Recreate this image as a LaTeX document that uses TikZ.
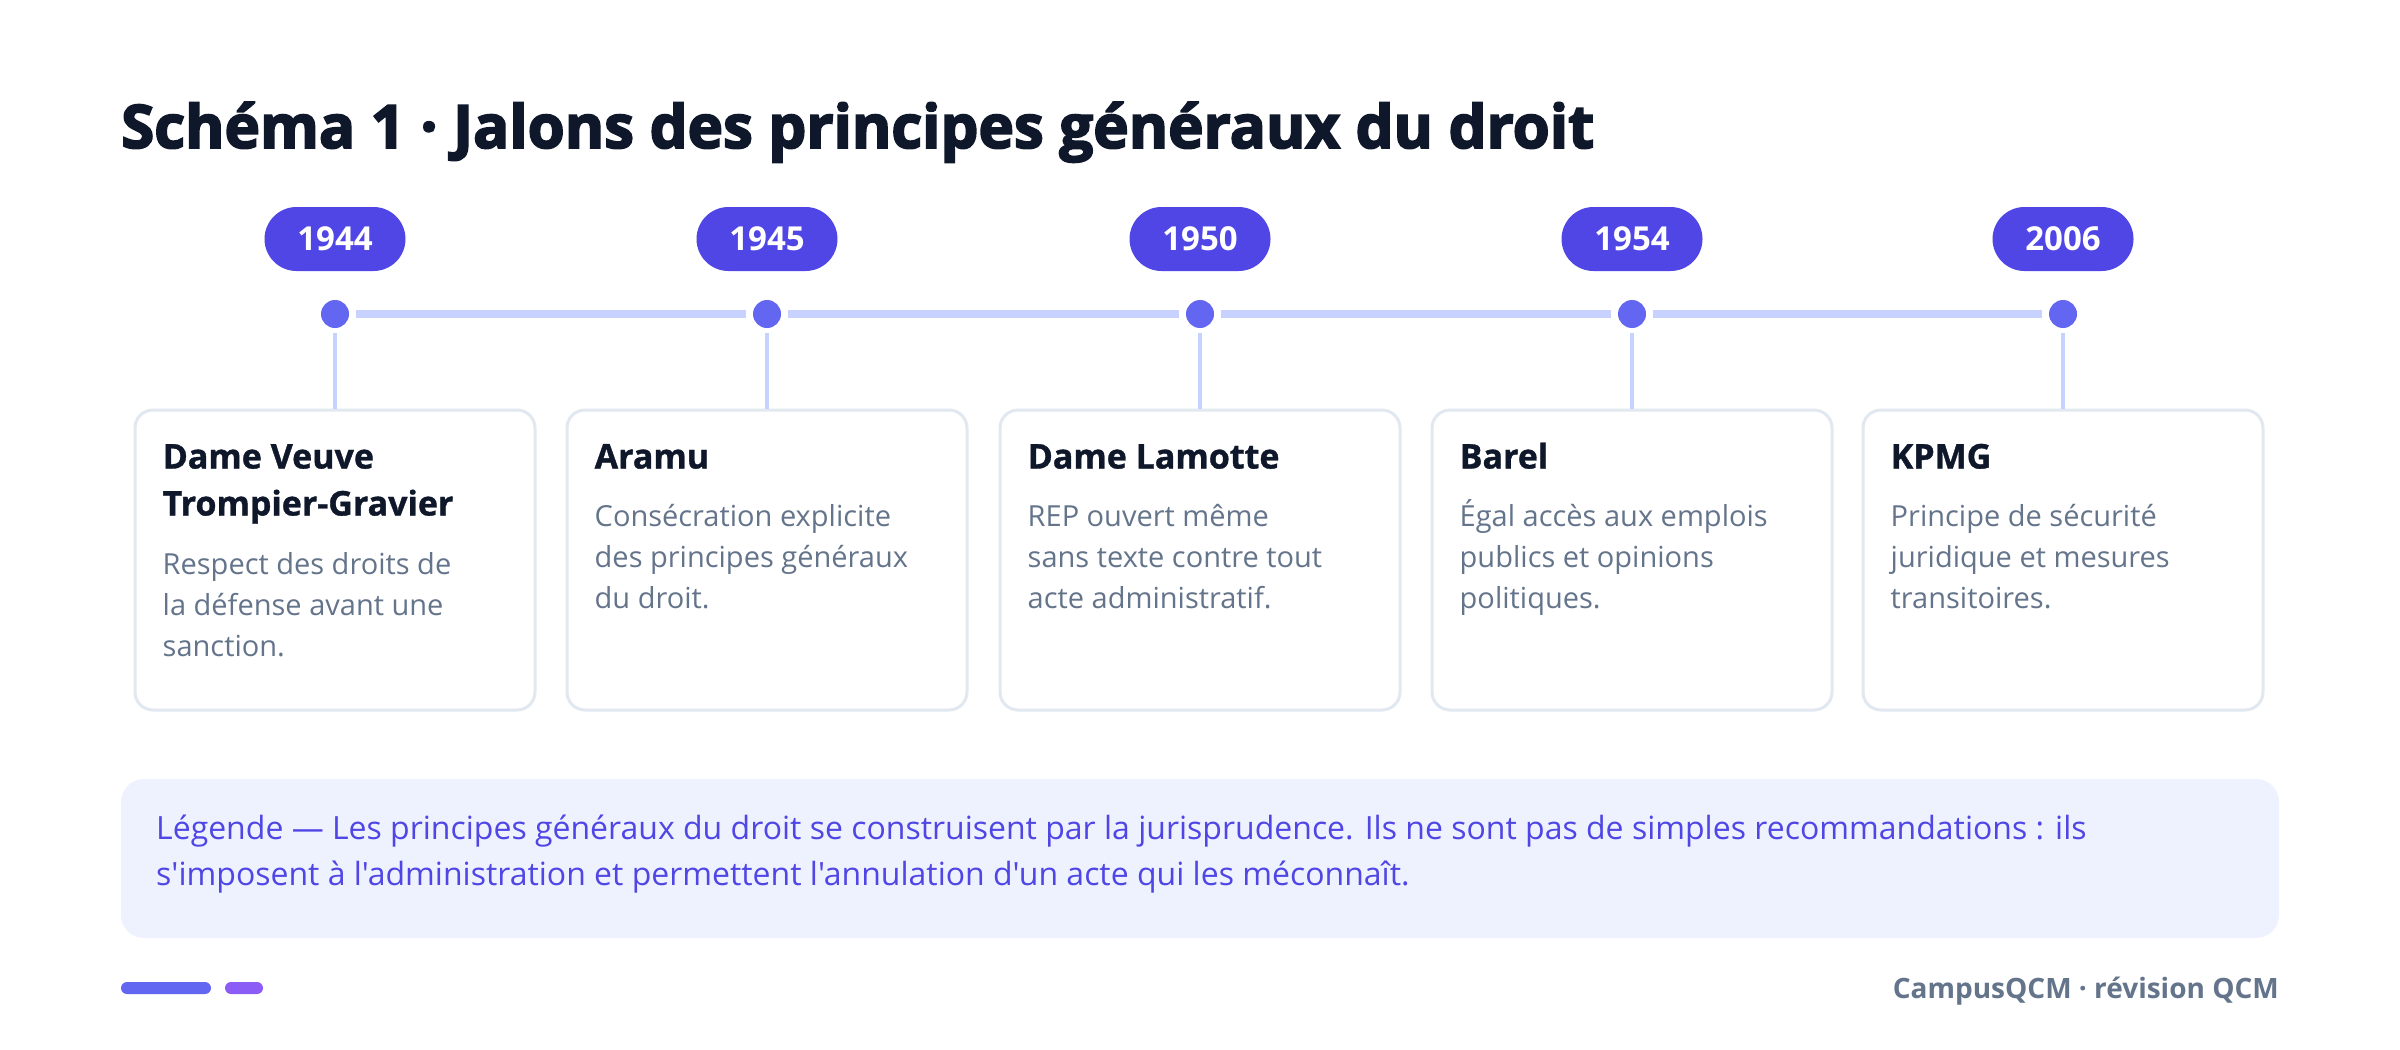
\documentclass[tikz,border=0pt]{standalone}
\usepackage{fontspec}
\setmainfont{Open Sans}
\newfontfamily\titlefont{Open Sans}[FakeBold=3]
\newfontfamily\cardfont{Open Sans}[FakeBold=1]
\newfontfamily\legfont{Open Sans}[Ligatures=TeXOff]
\definecolor{ink}{HTML}{0F172A}
\definecolor{slate}{HTML}{64748B}
\definecolor{indigo}{HTML}{4F46E5}
\definecolor{dotc}{HTML}{6366F1}
\definecolor{trackc}{HTML}{C7D2FE}
\definecolor{cardb}{HTML}{E2E8F0}
\definecolor{legbg}{HTML}{EEF2FF}
\definecolor{violet}{HTML}{8B5CF6}
\tikzset{
  pill/.style={fill=indigo, text=white, rounded corners=32pt, minimum width=141pt, minimum height=64pt, inner sep=0pt, font=\fontsize{33}{36}\selectfont\bfseries},
  tdot/.style={circle, fill=dotc, minimum size=28pt, inner sep=0pt},
  track/.style={draw=trackc, line width=8pt},
  stem/.style={draw=trackc, line width=4pt},
  card/.style={draw=cardb, line width=3pt, fill=white, rounded corners=18pt, minimum width=400pt, minimum height=300pt, inner sep=0pt},
  ctitle/.style={anchor=base west, inner sep=0pt, text=ink, font=\cardfont\fontsize{34}{40}\selectfont\bfseries},
  cdesc/.style={anchor=base west, inner sep=0pt, text=slate, font=\fontsize{29}{36}\selectfont},
  legtext/.style={anchor=base west, inner sep=0pt, text=indigo, font=\legfont\fontsize{32}{36}\selectfont},
}
\begin{document}
\begin{tikzpicture}[x=1pt,y=-1pt]
\useasboundingbox (0,0) rectangle (2400,1049);
\fill[white] (0,0) rectangle (2400,1049);
\node[anchor=base west, inner sep=0pt, text=ink, font=\titlefont\fontsize{60}{64}\selectfont\bfseries] (title) at (121,148) {Schéma 1 · Jalons des principes généraux du droit};
% pills, dots, cards
\foreach \i/\x/\yr in {1/335/1944,2/767/1945,3/1200/1950,4/1632/1954,5/2063/2006}{
  \node[pill] (y\i) at (\x,239) {\yr};
  \node[tdot] (d\i) at (\x,314) {};
  \node[card] (c\i) at (\x,560) {};
}
\foreach \a/\b in {1/2,2/3,3/4,4/5}{
  \draw[track, shorten <=21pt, shorten >=21pt] (d\a.center) -- (d\b.center);
}
\foreach \i in {1,...,5}{
  \draw[stem, shorten <=19pt] (d\i.center) -- (c\i.north);
}
% card 1
\node[ctitle] (t1a) at ([xshift=29pt,yshift=-60pt]c1.north west) {Dame Veuve};
\node[ctitle] (t1b) at ([xshift=29pt,yshift=-107pt]c1.north west) {Trompier-Gravier};
\node[cdesc] (p1a) at ([xshift=29pt,yshift=-166pt]c1.north west) {Respect des droits de};
\node[cdesc] (p1b) at ([xshift=29pt,yshift=-207pt]c1.north west) {la défense avant une};
\node[cdesc] (p1c) at ([xshift=29pt,yshift=-248pt]c1.north west) {sanction.};
% card 2
\node[ctitle] (t2) at ([xshift=29pt,yshift=-60pt]c2.north west) {Aramu};
\node[cdesc] (p2a) at ([xshift=29pt,yshift=-118pt]c2.north west) {Consécration explicite};
\node[cdesc] (p2b) at ([xshift=29pt,yshift=-159pt]c2.north west) {des principes généraux};
\node[cdesc] (p2c) at ([xshift=29pt,yshift=-200pt]c2.north west) {du droit.};
% card 3
\node[ctitle] (t3) at ([xshift=29pt,yshift=-60pt]c3.north west) {Dame Lamotte};
\node[cdesc] (p3a) at ([xshift=29pt,yshift=-118pt]c3.north west) {REP ouvert même};
\node[cdesc] (p3b) at ([xshift=29pt,yshift=-159pt]c3.north west) {sans texte contre tout};
\node[cdesc] (p3c) at ([xshift=29pt,yshift=-200pt]c3.north west) {acte administratif.};
% card 4
\node[ctitle] (t4) at ([xshift=29pt,yshift=-60pt]c4.north west) {Barel};
\node[cdesc] (p4a) at ([xshift=29pt,yshift=-118pt]c4.north west) {Égal accès aux emplois};
\node[cdesc] (p4b) at ([xshift=29pt,yshift=-159pt]c4.north west) {publics et opinions};
\node[cdesc] (p4c) at ([xshift=29pt,yshift=-200pt]c4.north west) {politiques.};
% card 5
\node[ctitle] (t5) at ([xshift=29pt,yshift=-60pt]c5.north west) {KPMG};
\node[cdesc] (p5a) at ([xshift=29pt,yshift=-118pt]c5.north west) {Principe de sécurité};
\node[cdesc] (p5b) at ([xshift=29pt,yshift=-159pt]c5.north west) {juridique et mesures};
\node[cdesc] (p5c) at ([xshift=29pt,yshift=-200pt]c5.north west) {transitoires.};
% legend
\node[fill=legbg, rounded corners=23pt, minimum width=2158pt, minimum height=159pt, inner sep=0pt] (leg) at (1200,858.5) {};
\node[legtext] (l1) at (156,839) {Légende — Les principes généraux du droit se construisent par la jurisprudence. Ils ne sont pas de simples recommandations : ils};
\node[legtext] (l2) at (156,885) {s'imposent à l'administration et permettent l'annulation d'un acte qui les méconnaît.};
% footer
\node[fill=dotc, rounded corners=6pt, minimum width=90pt, minimum height=12pt, inner sep=0pt] (bar1) at (166,988) {};
\node[fill=violet, rounded corners=6pt, minimum width=38pt, minimum height=12pt, inner sep=0pt] (bar2) at (244,988) {};
\node[anchor=base east, inner sep=0pt, text=slate, font=\fontsize{28}{30}\selectfont\bfseries] (foot) at (2279,998) {CampusQCM · révision QCM};
\end{tikzpicture}
\end{document}
